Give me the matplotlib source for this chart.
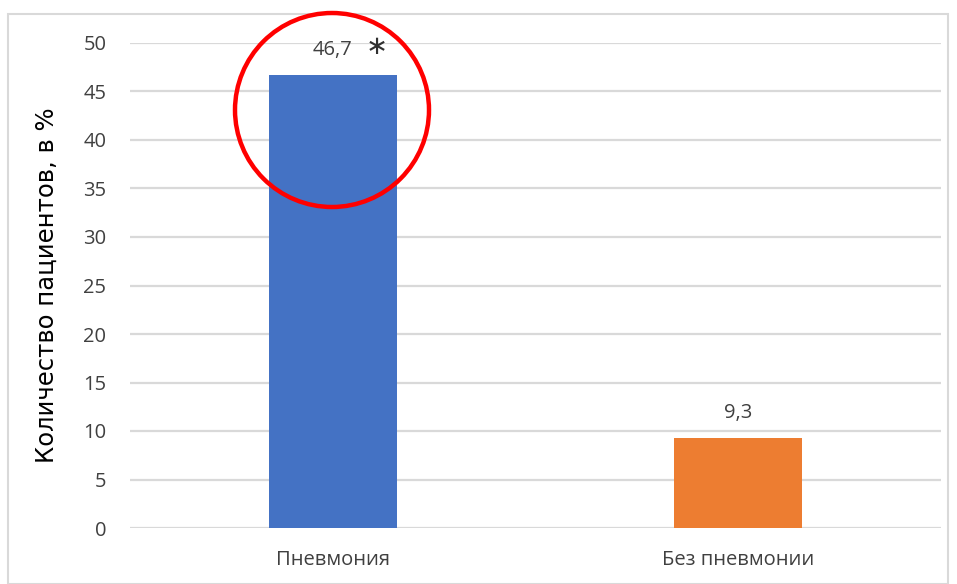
import matplotlib
matplotlib.use("Agg")
import matplotlib.pyplot as plt
from matplotlib.patches import Ellipse, Rectangle

categories = ["Пневмония", "Без пневмонии"]
values = [46.7, 9.3]
value_labels = ["46,7", "9,3"]
colors = ["#4472C4", "#ED7D31"]
yticks = [0, 5, 10, 15, 20, 25, 30, 35, 40, 45, 50]

plt.rcParams['font.family'] = ['Open Sans', 'DejaVu Sans']

W, H = 957, 584
fig = plt.figure(figsize=(W / 100, H / 100), dpi=100)
ax = fig.add_axes([130 / W, 56 / H, 811 / W, 485 / H])

x = list(range(len(categories)))
ax.bar(x, values, width=0.315, color=colors, zorder=3)
ax.set_xlim(-0.5, len(categories) - 0.5)
ax.set_ylim(0, 50)
ax.set_yticks(yticks)
ax.set_yticklabels([str(t) for t in yticks], fontsize=14.5, color="#404040")
ax.set_xticks(x)
ax.set_xticklabels(categories, fontsize=14.5, color="#404040")
ax.tick_params(axis='y', length=0, pad=17)
ax.tick_params(axis='x', length=0, pad=16)
for s in ax.spines.values():
    s.set_visible(False)
ax.grid(axis='y', color="#D9D9D9", linewidth=1.6, zorder=0)
ax.set_axisbelow(True)

ax.set_ylabel("Количество пациентов, в %", fontsize=17.5, color="black",
              family=['DejaVu Sans'])
ax.yaxis.set_label_coords(-(130 - 59) / 811, 0.5)

for xi, v, lab in zip(x, values, value_labels):
    ax.annotate(lab, (xi, v), xytext=(0, 11), textcoords="offset points",
                ha="center", va="bottom", fontsize=14.5, color="#404040")
ax.annotate("∗", (x[0], values[0]), xytext=(32, 11), textcoords="offset points",
            ha="center", va="bottom", fontsize=19, color="#303030",
            family=['DejaVu Sans'])

# red highlight circle
ell = Ellipse((332 / W, 1 - 110 / H), 194 / W, 194 / H, transform=fig.transFigure,
              fill=False, edgecolor="#FF0000", linewidth=3.2, zorder=10)
fig.patches.append(ell)

# outer border
border = Rectangle((8 / W, 0), 940 / W, 1 - 14 / H, transform=fig.transFigure,
                   fill=False, edgecolor="#D9D9D9", linewidth=1.5)
fig.patches.append(border)

fig.savefig("out.png", dpi=100)
